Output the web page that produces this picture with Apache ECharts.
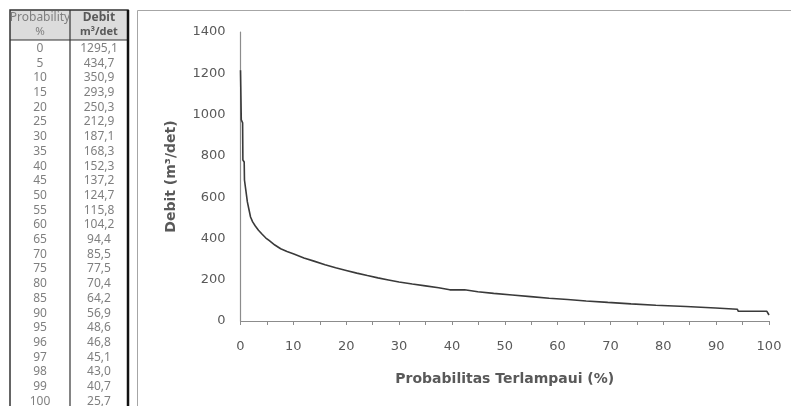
<!DOCTYPE html>
<html>
<head>
<meta charset="utf-8">
<title>Flow duration curve</title>
<script src="https://cdn.jsdelivr.net/npm/echarts@6/dist/echarts.min.js"></script>
<style>
  html, body { margin: 0; padding: 0; background: #fff; }
  #chart { width: 791px; height: 406px; }
</style>
</head>
<body>
<div id="chart"></div>
<script>
// table on the left (values as printed)
const tableProb = ["0", "5", "10", "15", "20", "25", "30", "35", "40", "45", "50", "55", "60",
  "65", "70", "75", "80", "85", "90", "95", "96", "97", "98", "99", "100"];
const tableDebit = ["1295,1", "434,7", "350,9", "293,9", "250,3", "212,9", "187,1", "168,3",
  "152,3", "137,2", "124,7", "115,8", "104,2", "94,4", "85,5", "77,5", "70,4", "64,2", "56,9",
  "48,6", "46,8", "45,1", "43,0", "40,7", "25,7"];

// curve, including the corners of the small steps on the right
const curveProb = [0, 0.15, 0.4, 0.45, 0.7, 0.75, 1.0, 1.3, 1.6, 1.9, 2.3, 2.8, 3.4, 4.1, 4.8,
  5.4, 6.5, 7.6, 8.8, 10.1, 12, 13.9, 16, 18, 20, 22, 24, 26, 28, 30, 32.5, 35, 37.5,
  39.6, 42.4, 42.6, 44.9, 45.1, 47.9, 48.1, 51.4, 51.6, 54.9, 55.1, 58.4, 58.6, 61.9, 62.1,
  65.4, 65.6, 69.5, 69.7, 73.9, 74.1, 78.6, 78.8, 84.3, 84.5, 89.9, 90.1, 94.0, 94.2, 99.6,
  99.8, 100];
const curveDebit = [1215, 975, 960, 780, 770, 683, 635, 577, 540, 504, 480, 460, 440, 420, 402,
  390, 368, 350, 337, 325, 305, 290, 273, 258, 245, 232, 220, 209, 199, 189, 179, 170, 161,
  151, 151, 142, 142, 134, 134, 126, 126, 118, 118, 110, 110, 104, 104, 97, 97,
  90, 90, 83, 83, 76, 76, 70, 70, 63, 63, 57, 57, 47, 47,
  38, 29];

const xTicks = [0, 10, 20, 30, 40, 50, 60, 70, 80, 90, 100];

const textGray = "#595959";
const tableFont = "'Noto Sans', sans-serif";
const chartFont = "'DejaVu Sans', Verdana, sans-serif";

const rowTop = 48.5;   // centre of first row
const rowStep = 14.7;

const myChart = echarts.init(document.getElementById("chart"));

const graphics = [
  // chart frame
  { type: "rect", z: -10, shape: { x: 137.5, y: 10.5, width: 700, height: 500 },
    style: { fill: "#fff", stroke: "#a6a6a6", lineWidth: 1 } },
  // table header
  { type: "rect", shape: { x: 10, y: 10, width: 118, height: 30 },
    style: { fill: "#dcdcdc", stroke: null } },
  { type: "rect", shape: { x: 10, y: 10, width: 118, height: 410 },
    style: { fill: null, stroke: "#333", lineWidth: 1.5 } },
  { type: "line", shape: { x1: 10, y1: 40, x2: 128, y2: 40 },
    style: { stroke: "#333", lineWidth: 1.2 } },
  { type: "line", shape: { x1: 70, y1: 10, x2: 70, y2: 420 },
    style: { stroke: "#333", lineWidth: 1.2 } },
  { type: "line", shape: { x1: 128, y1: 10, x2: 128, y2: 420 },
    style: { stroke: "#111", lineWidth: 2.5 } },
  { type: "text", style: { x: 40, y: 18, text: "Probability", fill: "#7f7f7f",
    font: "12px " + tableFont, align: "center", verticalAlign: "middle" } },
  { type: "text", style: { x: 40, y: 32, text: "%", fill: "#7f7f7f",
    font: "11.5px " + tableFont, align: "center", verticalAlign: "middle" } },
  { type: "text", style: { x: 99, y: 18, text: "Debit", fill: "#595959",
    font: "bold 12px " + tableFont, align: "center", verticalAlign: "middle" } },
  { type: "text", style: { x: 99, y: 32, text: "m³/det", fill: "#595959",
    font: "bold 11px " + tableFont, align: "center", verticalAlign: "middle" } },
];

tableProb.forEach(function (p, i) {
  graphics.push({ type: "text", style: { x: 40, y: rowTop + i * rowStep, text: p,
    fill: "#7f7f7f", font: "12px " + tableFont, align: "center", verticalAlign: "middle" } });
  graphics.push({ type: "text", style: { x: 99, y: rowTop + i * rowStep, text: tableDebit[i],
    fill: "#7f7f7f", font: "12px " + tableFont, align: "center", verticalAlign: "middle" } });
});

const option = {
  animation: false,
  backgroundColor: "#fff",
  textStyle: { fontFamily: chartFont },
  grid: { left: 240.5, right: 22, top: 32, bottom: 85, containLabel: false },
  graphic: graphics,
  xAxis: {
    type: "value",
    min: 0,
    max: 100,
    interval: 5,
    name: "Probabilitas Terlampaui (%)",
    nameLocation: "middle",
    nameGap: 51,
    nameTextStyle: { color: textGray, fontWeight: "bold", fontSize: 14, fontFamily: chartFont },
    axisLine: { lineStyle: { color: "#8c8c8c", width: 1.2 } },
    axisTick: { show: true, length: 4, lineStyle: { color: "#8c8c8c" } },
    axisLabel: {
      color: textGray,
      fontSize: 13,
      margin: 19,
      formatter: function (v) { return xTicks.indexOf(v) >= 0 ? String(v) : ""; },
    },
    splitLine: { show: false },
  },
  yAxis: {
    type: "value",
    min: 0,
    max: 1400,
    interval: 200,
    name: "Debit (m³/det)",
    nameLocation: "middle",
    nameGap: 62,
    nameTextStyle: { color: textGray, fontWeight: "bold", fontSize: 14, fontFamily: chartFont },
    axisLine: { show: true, lineStyle: { color: "#8c8c8c", width: 1.2 } },
    axisTick: { show: false },
    axisLabel: {
      color: textGray,
      fontSize: 13,
      margin: 15,
      formatter: function (v) { return String(v); },
    },
    splitLine: { show: false },
  },
  series: [
    {
      type: "line",
      showSymbol: false,
      symbol: "none",
      lineStyle: { color: "#3a3a3a", width: 1.6 },
      data: curveProb.map(function (p, i) { return [p, curveDebit[i]]; }),
    },
  ],
};

myChart.setOption(option);
window.addEventListener("resize", function () { myChart.resize(); });
</script>
</body>
</html>
